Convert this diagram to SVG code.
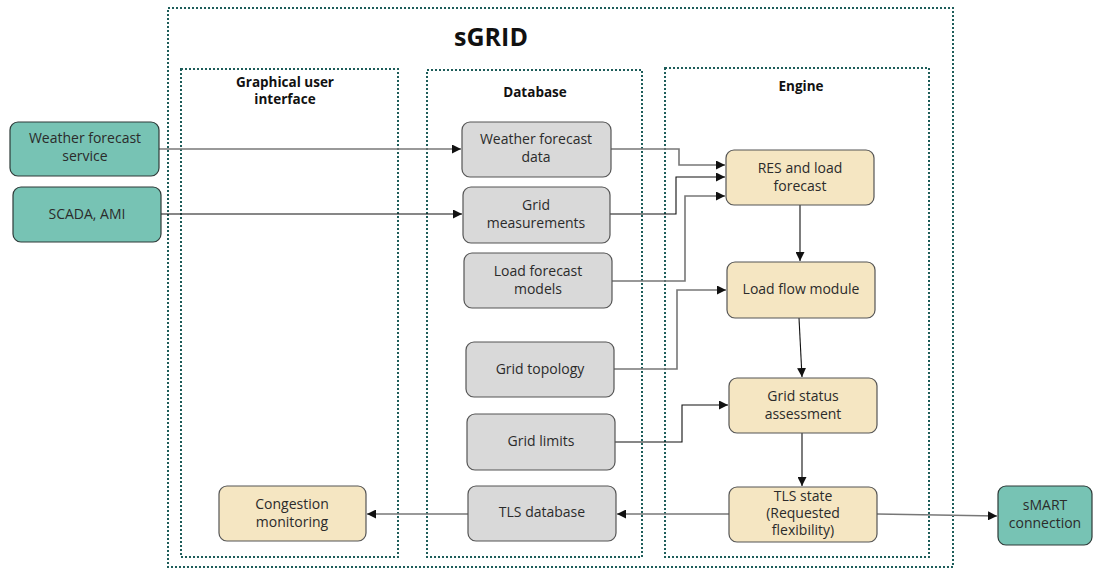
<svg xmlns="http://www.w3.org/2000/svg" width="1104" height="570" viewBox="0 0 1104 570">
<defs>
<style>
.grp{fill:none;stroke:#1e5d5a;stroke-width:2;stroke-dasharray:2 2}
.teal{fill:#77c3b4;stroke:#2e3a38;stroke-width:1.2}
.grey{fill:#d9d9d9;stroke:#555;stroke-width:1.2}
.yel{fill:#f5e6c2;stroke:#555;stroke-width:1.2}
.t{font-family:"Open Sans","Liberation Sans",sans-serif;font-size:14px;fill:#2b2b2b;text-anchor:middle}
.h{font-family:"Open Sans","Liberation Sans",sans-serif;font-size:13.5px;font-weight:bold;fill:#111;text-anchor:middle}
.title{font-family:"Open Sans","Liberation Sans",sans-serif;font-size:25px;font-weight:bold;fill:#111;text-anchor:middle}
.c{fill:none;stroke:#111;stroke-width:1.1}
.cg{fill:none;stroke:#777;stroke-width:1.6}
</style>
<marker id="ah" viewBox="0 0 10 10" refX="10" refY="5" markerWidth="9" markerHeight="9" markerUnits="userSpaceOnUse" orient="auto">
<path d="M0,0 L10,5 L0,10 z" fill="#111"/>
</marker>
</defs>
<g id="sgrid">
<rect class="grp" x="168" y="8" width="785" height="559"/>
<text class="title" x="491" y="46">sGRID</text>
</g>
<g id="gui">
<rect class="grp" x="181" y="69" width="217" height="488"/>
<text class="h" x="285" y="87">Graphical user</text>
<text class="h" x="285" y="104">interface</text>
</g>
<g id="database">
<rect class="grp" x="427" y="70" width="215" height="487"/>
<text class="h" x="535" y="97">Database</text>
</g>
<g id="engine">
<rect class="grp" x="665" y="68" width="264" height="489"/>
<text class="h" x="801" y="91">Engine</text>
</g>
<g id="connectors">
<path class="cg" d="M159,149 H461" marker-end="url(#ah)"/>
<path class="c" d="M161,214 H462" marker-end="url(#ah)"/>
<path class="cg" d="M611,149 H679 V165 H725" marker-end="url(#ah)"/>
<path class="c" d="M610,214 H676 V177 H725" marker-end="url(#ah)"/>
<path class="cg" d="M612,281 H685 V196 H725" marker-end="url(#ah)"/>
<path class="c" d="M800,205 V261" marker-end="url(#ah)"/>
<path class="cg" d="M614,369 H677 V290 H726" marker-end="url(#ah)"/>
<path class="c" d="M799,318 L802,377" marker-end="url(#ah)"/>
<path class="c" d="M615,442 H682 V405 H728" marker-end="url(#ah)"/>
<path class="c" d="M802,433 V486" marker-end="url(#ah)"/>
<path class="cg" d="M729,514 H617" marker-end="url(#ah)"/>
<path class="cg" d="M468,514 H367" marker-end="url(#ah)"/>
<path class="cg" d="M877,514 L997,516" marker-end="url(#ah)"/>
</g>
<g id="wfs">
<rect class="teal" x="10" y="122" width="149" height="54" rx="8"/>
<text class="t" x="85" y="143">Weather forecast</text>
<text class="t" x="85" y="161">service</text>
</g>
<g id="scada">
<rect class="teal" x="13" y="187" width="148" height="55" rx="8"/>
<text class="t" x="87" y="219">SCADA, AMI</text>
</g>
<g id="wfd">
<rect class="grey" x="462" y="122" width="149" height="55" rx="8"/>
<text class="t" x="536" y="144">Weather forecast</text>
<text class="t" x="536" y="162">data</text>
</g>
<g id="gm">
<rect class="grey" x="463" y="187" width="147" height="56" rx="8"/>
<text class="t" x="536" y="210">Grid</text>
<text class="t" x="536" y="228">measurements</text>
</g>
<g id="lfm">
<rect class="grey" x="464" y="253" width="148" height="55" rx="8"/>
<text class="t" x="538" y="276">Load forecast</text>
<text class="t" x="538" y="294">models</text>
</g>
<g id="topology">
<rect class="grey" x="466" y="342" width="148" height="55" rx="8"/>
<text class="t" x="540" y="374">Grid topology</text>
</g>
<g id="limits">
<rect class="grey" x="467" y="414" width="148" height="56" rx="8"/>
<text class="t" x="541" y="446">Grid limits</text>
</g>
<g id="tlsdb">
<rect class="grey" x="468" y="486" width="148" height="55" rx="8"/>
<text class="t" x="542" y="517">TLS database</text>
</g>
<g id="congestion">
<rect class="yel" x="219" y="486" width="147" height="55" rx="8"/>
<text class="t" x="292" y="509">Congestion</text>
<text class="t" x="292" y="527">monitoring</text>
</g>
<g id="res">
<rect class="yel" x="726" y="150" width="148" height="55" rx="8"/>
<text class="t" x="800" y="173">RES and load</text>
<text class="t" x="800" y="191">forecast</text>
</g>
<g id="loadflow">
<rect class="yel" x="727" y="262" width="148" height="56" rx="8"/>
<text class="t" x="801" y="294">Load flow module</text>
</g>
<g id="gridstatus">
<rect class="yel" x="729" y="378" width="148" height="55" rx="8"/>
<text class="t" x="803" y="401">Grid status</text>
<text class="t" x="803" y="419">assessment</text>
</g>
<g id="tlsstate">
<rect class="yel" x="729" y="487" width="148" height="55" rx="8"/>
<text class="t" x="803" y="501">TLS state</text>
<text class="t" x="803" y="518">(Requested</text>
<text class="t" x="803" y="535">flexibility)</text>
</g>
<g id="smart">
<rect class="teal" x="998" y="486" width="94" height="59" rx="8"/>
<text class="t" x="1045" y="510">sMART</text>
<text class="t" x="1045" y="528">connection</text>
</g>
</svg>
